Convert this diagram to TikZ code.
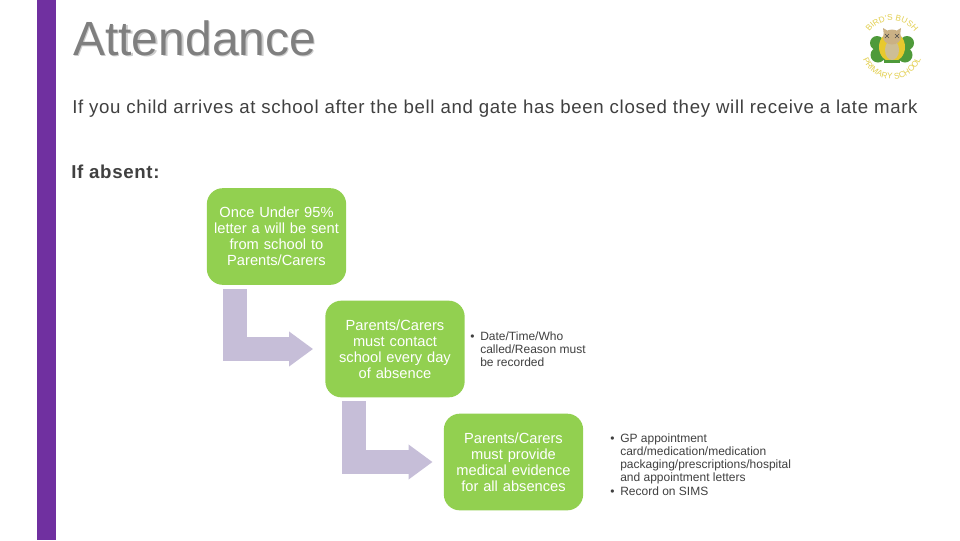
\documentclass[tikz,border=0pt]{standalone}
\usepackage{fontspec}
\setmainfont{Liberation Sans}
\newfontfamily\spacedfont[LetterSpace=3.6]{Liberation Sans}
\usepackage{xcolor}
\usetikzlibrary{arrows.meta,decorations.text}
\definecolor{barpurple}{HTML}{7030A0}
\definecolor{stepgreen}{HTML}{92D050}
\definecolor{arrowlilac}{HTML}{C6BED8}
\definecolor{titlegrey}{HTML}{7F7F7F}
\definecolor{bodygrey}{HTML}{404040}
\definecolor{logoyellow}{HTML}{E3CF4E}
\definecolor{logogreen}{HTML}{4E9A3A}
\definecolor{owlyellow}{HTML}{E8C92E}
\definecolor{owltan}{HTML}{CDBE96}
\newcommand{\notebullet}{\makebox[7.5pt][l]{•}}

\begin{document}
\begin{tikzpicture}[
    x=0.75pt, y=-0.75pt,
    stepbox/.style={fill=stepgreen, rounded corners=12pt, minimum width=104.5pt, minimum height=72.5pt, align=center, text width=96pt, inner sep=0pt, font=\fontsize{11}{12}\selectfont, text=white},
    bentarrow/.style={draw=arrowlilac, line width=18pt, line join=miter, -{Triangle[length=18pt, width=25pt]}},
    notetext/.style={anchor=north west, align=left, inner sep=0pt, font=\fontsize{9}{9.75}\selectfont, text=bodygrey},
    bodytext/.style={anchor=base west, inner sep=0pt, font=\spacedfont\fontsize{14}{16}\selectfont, text=bodygrey},
    logotext/.style={decorate, decoration={text along path, text align=center, text={|\fontsize{6.2}{6.2}\selectfont\color{logoyellow}|#1}}},
]

\useasboundingbox (0, 0) rectangle (960, 540);
\fill[white] (0, 0) rectangle (960, 540);

% Purple bar on the left
\fill[barpurple] (37, 0) rectangle (56, 540);

% Title with its shadow
\node[anchor=base west, inner sep=0pt, font=\fontsize{36}{36}\selectfont, text=black!20] (titleshadow) at (74.5, 56.5) {Attendance};
\node[anchor=base west, inner sep=0pt, font=\fontsize{36}{36}\selectfont, text=titlegrey] (title) at (73, 55) {Attendance};

% Body lines
\node[bodytext] (latemark) at (72, 113) {If you child arrives at school after the bell and gate has been closed they will receive a late mark};
\node[bodytext, font=\spacedfont\fontsize{14}{16}\selectfont\bfseries] (absent) at (71, 178) {If absent:};

% Green steps
\node[stepbox] (letter) at (276.5, 236.5) {Once Under 95\%\\letter a will be sent\\from school to\\Parents/Carers};
\node[stepbox] (contact) at (395, 349) {Parents/Carers\\must contact\\school every day\\of absence};
\node[stepbox] (evidence) at (513.5, 462) {Parents/Carers\\must provide\\medical evidence\\for all absences};

% Bent arrows between the steps
\coordinate (letterfoot) at (235, 289);
\coordinate (contactfoot) at (354, 401);
\draw[bentarrow, shorten >=9pt] (letterfoot) |- (contact.west);
\draw[bentarrow, shorten >=8.25pt] (contactfoot) |- (evidence.west);

% Notes beside the steps
\node[notetext] (contactnote) at (470, 331.5) {\notebullet Date/Time/Who\\\hspace{7.5pt}called/Reason must\\\hspace{7.5pt}be recorded};
\node[notetext] (evidencenote) at (610, 434) {\notebullet GP appointment\\\hspace{7.5pt}card/medication/medication\\\hspace{7.5pt}packaging/prescriptions/hospital\\\hspace{7.5pt}and appointment letters\\[0.5pt]\notebullet Record on SIMS};

% School logo
\fill[logogreen] (877, 43) circle (7) (878, 55) circle (7.5) (907, 43) circle (7) (905, 55) circle (7.5) (892, 50) circle (13);
\fill[owlyellow] (892, 47) ellipse (13 and 15);
\fill[owltan] (892, 50) ellipse (7 and 10);
\fill[owltan!80!brown] (892, 37) ellipse (9 and 7.5);
\fill[owltan!80!brown] (883, 28) -- (888, 31) -- (884, 36) -- cycle (901, 28) -- (896, 31) -- (900, 36) -- cycle;
\draw[black!70, line width=0.5pt] (885, 34) -- (889, 38) (889, 34) -- (885, 38) (895, 34) -- (899, 38) (899, 34) -- (895, 38);
\fill[logogreen] (884, 60) rectangle (900, 63);
\path[logotext={BIRD'S BUSH}] (865.4, 55.1) arc[start angle=165, end angle=375, radius=27.5];
\path[logotext={PRIMARY SCHOOL}] (861.5, 53.4) arc[start angle=170, end angle=10, radius=31];

\end{tikzpicture}
\end{document}
